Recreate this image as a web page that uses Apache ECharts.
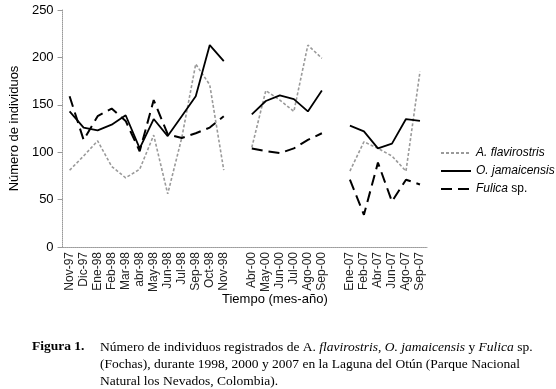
<!DOCTYPE html>
<html>
<head>
<meta charset="utf-8">
<script src="https://cdn.jsdelivr.net/npm/echarts@6/dist/echarts.min.js"></script>
<style>
  html, body { margin: 0; padding: 0; background: #fff; }
  #chart { width: 556px; height: 389px; }
</style>
</head>
<body>
<div id="chart"></div>
<script>
  // meses (los '' son huecos entre campañas)
  var meses = ['Nov-97', 'Dic-97', 'Ene-98', 'Feb-98', 'Mar-98', 'abr-98', 'May-98', 'Jun-98', 'Jul-98', 'Sep-98', 'Oct-98', 'Nov-98',
    '',
    'Abr-00', 'May-00', 'Jun-00', 'Jul-00', 'Ago-00', 'Sep-00',
    '',
    'Ene-07', 'Feb-07', 'Abr-07', 'Jun-07', 'Ago-07', 'Sep-07'];

  var flavirostris = [81, 96, 112, 85, 73, 82, 118, 56, 115, 193, 171, 81,
    null,
    105, 165, 155, 143, 213, 199,
    null,
    80, 111, 104, 96, 80, 185];

  var jamaicensis = [143, 126, 123, 129, 139, 104, 135, 117, 138, 159, 213, 196,
    null,
    140, 154, 160, 156, 143, 165,
    null,
    128, 122, 104, 109, 135, 133];

  var fulica = [159, 113, 138, 146, 133, 101, 155, 119, 115, 120, 126, 138,
    null,
    104, 101, 99, 104, 113, 120,
    null,
    71, 34, 89, 48, 71, 66];

  var yTicks = [0, 50, 100, 150, 200, 250];

  var chart = echarts.init(document.getElementById('chart'));
  var sans = 'Liberation Sans';
  var serif = 'Liberation Serif';

  chart.setOption({
    backgroundColor: '#fff',
    animation: false,
    grid: {
      left: 55,
      right: 129,
      top: 10,
      bottom: 142
    },
    legend: {
      orient: 'vertical',
      left: 435,
      top: 142,
      itemWidth: 30,
      itemHeight: 14,
      itemGap: 6,
      itemStyle: { opacity: 0 },
      textStyle: {
        fontFamily: sans,
        fontSize: 12,
        color: '#000',
        rich: {
          i: { fontStyle: 'italic', fontFamily: sans, fontSize: 12 },
          n: { fontFamily: sans, fontSize: 12 }
        }
      },
      formatter: function (name) {
        if (name === 'A. flavirostris') return '{i|A. flavirostris}';
        if (name === 'O. jamaicensis') return '{i|O. jamaicensis}';
        return '{i|Fulica}{n| sp.}';
      },
      data: ['A. flavirostris', 'O. jamaicensis', 'Fulica sp.']
    },
    xAxis: {
      type: 'category',
      data: meses,
      boundaryGap: true,
      axisLine: { lineStyle: { color: '#999', type: 'dotted', width: 1 } },
      axisTick: { show: false },
      axisLabel: {
        interval: 0,
        rotate: 90,
        margin: 5,
        fontFamily: sans,
        fontSize: 12,
        color: '#222'
      }
    },
    yAxis: {
      type: 'value',
      min: 0,
      max: 250,
      interval: 50,
      name: 'Número de individuos',
      nameLocation: 'middle',
      nameGap: 32,
      nameTextStyle: { fontFamily: sans, fontSize: 13, color: '#000' },
      axisLine: { show: true, lineStyle: { color: '#999', type: 'dotted', width: 1 } },
      axisTick: { show: true, length: 5, lineStyle: { color: '#999' } },
      splitLine: { show: false },
      axisLabel: {
        margin: 9,
        fontFamily: sans,
        fontSize: 13,
        color: '#000',
        formatter: function (v) { return yTicks.indexOf(v) >= 0 ? String(v) : ''; }
      }
    },
    series: [
      {
        name: 'A. flavirostris',
        type: 'line',
        data: flavirostris,
        symbol: 'none',
        lineStyle: { color: '#9a9a9a', width: 1.6, type: [3, 2] },
        itemStyle: { color: '#9a9a9a' }
      },
      {
        name: 'O. jamaicensis',
        type: 'line',
        data: jamaicensis,
        symbol: 'none',
        lineStyle: { color: '#000', width: 1.8, type: 'solid' },
        itemStyle: { color: '#000' }
      },
      {
        name: 'Fulica sp.',
        type: 'line',
        data: fulica,
        symbol: 'none',
        lineStyle: { color: '#000', width: 2, type: [11, 6] },
        itemStyle: { color: '#000' }
      }
    ],
    graphic: [
      {
        type: 'text',
        left: 222,
        top: 293,
        style: { text: 'Tiempo (mes-año)', fontFamily: sans, fontSize: 13, fill: '#000' }
      },
      {
        type: 'text',
        left: 32,
        top: 340,
        style: { text: 'Figura 1.', fontFamily: serif, fontSize: 13.5, fontWeight: 'bold', fill: '#000' }
      },
      {
        type: 'text',
        left: 100,
        top: 340,
        style: {
          text: 'Número de individuos registrados de A. {i|flavirostris}, {i|O. jamaicensis} y {i|Fulica} sp.',
          fontFamily: serif,
          fontSize: 13.5,
          fill: '#000',
          rich: { i: { fontFamily: serif, fontSize: 13.5, fontStyle: 'italic', fill: '#000' } }
        }
      },
      {
        type: 'text',
        left: 100,
        top: 357,
        style: {
          text: '(Fochas), durante 1998, 2000 y 2007 en la Laguna del Otún (Parque Nacional',
          fontFamily: serif, fontSize: 13.5, fill: '#000'
        }
      },
      {
        type: 'text',
        left: 100,
        top: 374,
        style: {
          text: 'Natural los Nevados, Colombia).',
          fontFamily: serif, fontSize: 13.5, fill: '#000'
        }
      }
    ]
  });
</script>
</body>
</html>
